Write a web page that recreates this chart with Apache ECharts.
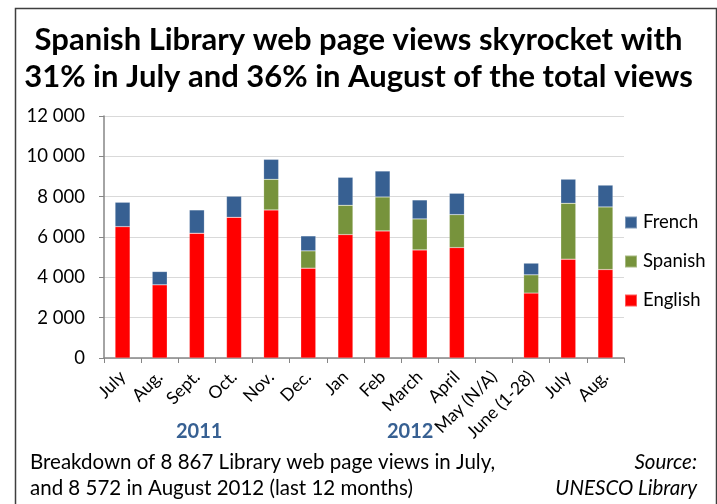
<!DOCTYPE html>
<html>
<head>
<meta charset="utf-8">
<script src="https://cdn.jsdelivr.net/npm/echarts@6/dist/echarts.min.js"></script>
<style>
  html, body { margin: 0; padding: 0; background: #fff; }
  #chart { width: 717px; height: 504px; }
</style>
</head>
<body>
<div id="chart"></div>
<script>
// months, July 2011 to August 2012 (May has no data)
const months = ['July', 'Aug.', 'Sept.', 'Oct.', 'Nov.', 'Dec.', 'Jan', 'Feb',
    'March', 'April', 'May (N/A)', 'June (1-28)', 'July', 'Aug.'];
const english = [6515, 3629, 6188, 6980, 7342, 4455, 6119, 6302, 5361, 5475, null, 3218, 4901, 4386];
const spanish = [0, 0, 0, 0, 1519, 857, 1455, 1683, 1535, 1634, null, 906, 2772, 3104];
const french = [1208, 658, 1154, 1040, 990, 742, 1386, 1287, 941, 1059, null, 579, 1194, 1082];
const yTicks = [0, 2000, 4000, 6000, 8000, 10000, 12000];

const FONT = 'Lato';

function spaced(v) {
    return String(v).replace(/\B(?=(\d{3})+(?!\d))/g, ' ');
}

const chart = echarts.init(document.getElementById('chart'));

function barSeries(name, data, color) {
    return {
        name: name,
        type: 'bar',
        stack: 'views',
        barWidth: 15,
        data: data,
        itemStyle: { color: color, borderColor: 'rgba(255,255,255,0.35)', borderWidth: 0.5 }
    };
}

const options = {
    animation: false,
    textStyle: { fontFamily: FONT },
    title: {
        text: 'Spanish Library web page views skyrocket with\n31% in July and 36% in August of the total views',
        left: 'center',
        top: 16,
        textStyle: { fontFamily: FONT, fontWeight: 'bold', fontSize: 31, lineHeight: 37, color: '#000' }
    },
    legend: {
        orient: 'vertical',
        left: 619,
        top: 208,
        itemWidth: 12,
        itemHeight: 12,
        itemGap: 20,
        icon: 'rect',
        data: ['French', 'Spanish', 'English'],
        textStyle: { fontFamily: FONT, fontSize: 18.5, color: '#000', padding: [0, 0, 0, 1] }
    },
    grid: { left: 104, right: 93, top: 116, bottom: 146, containLabel: false },
    xAxis: {
        type: 'category',
        data: months,
        boundaryGap: true,
        axisLine: { lineStyle: { color: '#868686', width: 1.5 } },
        axisTick: { show: true, length: 5, interval: 0, lineStyle: { color: '#868686' } },
        axisLabel: { interval: 0, rotate: 45, fontSize: 17.5, color: '#000', margin: 16, fontFamily: FONT }
    },
    yAxis: {
        type: 'value',
        min: yTicks[0],
        max: yTicks[yTicks.length - 1],
        interval: 2000,
        axisLine: { show: true, lineStyle: { color: '#868686', width: 1.5 } },
        axisTick: { show: true, length: 5, lineStyle: { color: '#868686' } },
        axisLabel: { fontSize: 18.5, color: '#000', margin: 19, fontFamily: FONT, formatter: spaced },
        splitLine: { lineStyle: { color: '#d9d9d9', width: 1 } }
    },
    series: [
        barSeries('English', english, '#ff0000'),
        barSeries('Spanish', spanish, '#77933c'),
        barSeries('French', french, '#376092')
    ],
    graphic: [
        {
            type: 'rect', left: 13, top: 6, z: 100,
            shape: { width: 701, height: 520 },
            style: { fill: 'none', stroke: '#3f3f3f', lineWidth: 1.5 }
        },
        {
            type: 'text', left: 176, top: 422,
            style: { text: '2011', fontFamily: FONT, fontWeight: 'bold', fontSize: 20, fill: '#376092' }
        },
        {
            type: 'text', left: 387, top: 422,
            style: { text: '2012', fontFamily: FONT, fontWeight: 'bold', fontSize: 20, fill: '#376092' }
        },
        {
            type: 'text', left: 30, top: 449,
            style: {
                text: 'Breakdown of 8 867 Library web page views in July,\nand 8 572 in August 2012 (last 12 months)',
                fontFamily: FONT, fontSize: 20.5, lineHeight: 26, fill: '#000'
            }
        },
        {
            type: 'text', right: 20, top: 449,
            style: { text: 'Source:', fontFamily: FONT, fontStyle: 'italic', fontSize: 20.5, lineHeight: 26, fill: '#000' }
        },
        {
            type: 'text', right: 20, top: 475,
            style: { text: 'UNESCO Library', fontFamily: FONT, fontStyle: 'italic', fontSize: 20.5, lineHeight: 26, fill: '#000' }
        }
    ]
};

chart.setOption(options);
</script>
</body>
</html>
